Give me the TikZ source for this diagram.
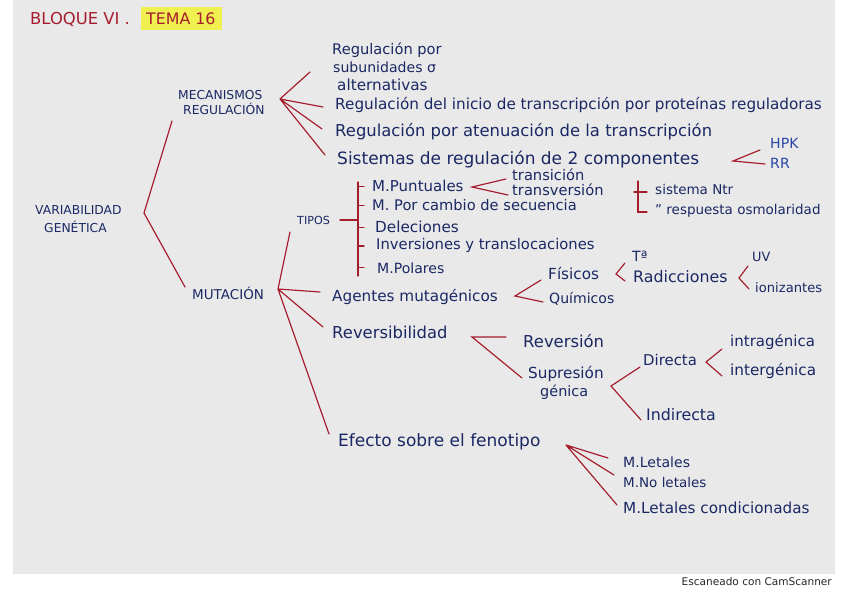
\documentclass[tikz,border=0pt]{standalone}
\usepackage{fontspec}
\setmainfont{DejaVu Sans}
\usepackage{tikz}
\definecolor{inkblue}{RGB}{27,40,100}
\definecolor{inkred}{RGB}{165,28,45}
\definecolor{brightblue}{RGB}{40,70,165}
\definecolor{paper}{RGB}{233,233,233}
\definecolor{marker}{RGB}{240,240,80}

\begin{document}
\begin{tikzpicture}[x=0.03cm, y=-0.03cm,
    lbl/.style={anchor=base west, inner sep=0pt, text=inkblue, font=\fontsize{#1}{#1}\selectfont},
    lbl/.default=13,
    branch/.style={inkred, line width=1pt, line cap=round}]
    \useasboundingbox (0,0) rectangle (848,599);
    \fill[paper] (13,0) rectangle (835,574);
    \fill[marker] (141,7) rectangle (222,30);

    % titulo
    \node (blq) at (30,25) [lbl=14, text=inkred] {BLOQUE VI .};
    \node (tema) at (146,25) [lbl=13.5, text=inkred] {TEMA 16};

    % ramas principales
    \node (var1) at (35,215) [lbl=10.5] {VARIABILIDAD};
    \node (var2) at (44,233) [lbl=10.5] {GENÉTICA};
    \node (mec1) at (178,100) [lbl=10.5] {MECANISMOS};
    \node (mec2) at (183,115) [lbl=10.5] {REGULACIÓN};
    \node (mut) at (192,299) [lbl=11.5] {MUTACIÓN};
    \node (tip) at (297,225) [lbl=9.5] {TIPOS};

    % mecanismos de regulacion
    \node (rs1) at (332,55) [lbl=12.5] {Regulación por};
    \node (rs2) at (333,73) [lbl=12] {subunidades σ};
    \node (rs3) at (337,91) [lbl=13] {alternativas};
    \node (rin) at (335,110) [lbl=13] {Regulación del inicio de transcripción por proteínas reguladoras};
    \node (rat) at (335,137) [lbl=14] {Regulación por atenuación de la transcripción};
    \node (sis) at (337,165) [lbl=14.5] {Sistemas de regulación de 2 componentes};
    \node (hpk) at (770,149) [lbl=12, text=brightblue] {HPK};
    \node (rr) at (770,169) [lbl=12, text=brightblue] {RR};

    % tipos de mutacion
    \node (pun) at (372,192) [lbl=12.8] {M.Puntuales};
    \node (tsi) at (512,181) [lbl=12.5] {transición};
    \node (tve) at (512,196) [lbl=12.5] {transversión};
    \node (sec) at (372,211) [lbl=12.5] {M. Por cambio de secuencia};
    \node (del) at (375,233) [lbl=13] {Deleciones};
    \node (inv) at (376,250) [lbl=12.6] {Inversiones y translocaciones};
    \node (pol) at (377,273) [lbl=12] {M.Polares};
    \node (ntr) at (655,195) [lbl=11.5] {sistema Ntr};
    \node (osm) at (655,215) [lbl=11.5] {'' respuesta osmolaridad};

    % agentes mutagenicos
    \node (age) at (332,301) [lbl=13] {Agentes mutagénicos};
    \node (fis) at (548,279) [lbl=13] {Físicos};
    \node (qui) at (549,303) [lbl=12] {Químicos};
    \node (tem) at (632,262) [lbl=12] {Tª};
    \node (rad) at (633,282) [lbl=13.5] {Radicciones};
    \node (uv) at (752,262) [lbl=11] {UV};
    \node (ion) at (755,292) [lbl=11.2] {ionizantes};

    % reversibilidad
    \node (rev) at (332,338) [lbl=14] {Reversibilidad};
    \node (rsn) at (523,347) [lbl=14] {Reversión};
    \node (sup1) at (528,378) [lbl=13] {Supresión};
    \node (sup2) at (540,396) [lbl=12.3] {génica};
    \node (dir) at (643,365) [lbl=12.7] {Directa};
    \node (ind) at (646,420) [lbl=13.5] {Indirecta};
    \node (intra) at (730,346) [lbl=12.8] {intragénica};
    \node (inter) at (730,375) [lbl=13] {intergénica};

    % efecto sobre el fenotipo
    \node (efe) at (338,446) [lbl=14.5] {Efecto sobre el fenotipo};
    \node (let) at (623,467) [lbl=12] {M.Letales};
    \node (nol) at (623,487) [lbl=11.5] {M.No letales};
    \node (con) at (623,513) [lbl=13] {M.Letales condicionadas};

    \node (cam) at (832,585) [anchor=base east, inner sep=0pt, text=black!85, font=\fontsize{9}{9}\selectfont] {Escaneado con CamScanner};

    % llaves
    \coordinate (v0) at (144,213);
    \coordinate (v1) at (172,121);
    \coordinate (v2) at (185,287);
    \draw[branch] (v1) -- (v0) -- (v2);

    \coordinate (m0) at (280,99);
    \coordinate (m1) at (310,72);
    \coordinate (m2) at (323,107);
    \coordinate (m3) at (322,129);
    \coordinate (m4) at (325,155);
    \draw[branch] (m0) -- (m1) (m0) -- (m2) (m0) -- (m3) (m0) -- (m4);

    \coordinate (k0) at (733,161);
    \coordinate (k1) at (760,150);
    \coordinate (k2) at (765,164);
    \draw[branch] (k1) -- (k0) -- (k2);

    \coordinate (u0) at (278,289);
    \coordinate (u1) at (290,232);
    \coordinate (u2) at (320,292);
    \coordinate (u3) at (323,327);
    \coordinate (u4) at (329,434);
    \draw[branch] (u0) -- (u1) (u0) -- (u2) (u0) -- (u3) (u0) -- (u4);

    \coordinate (t0) at (340,220);
    \coordinate (t1) at (358,220);
    \coordinate (tb1) at (358,182);
    \coordinate (tb2) at (358,276);
    \draw[branch] (t0) -- (t1) (tb1) -- (tb2);
    \foreach \n in {pun,sec,del,inv,pol}
        \draw[branch] (tb1 |- \n) -- ++(6,0);

    \coordinate (p0) at (472,187);
    \coordinate (p1) at (506,179);
    \coordinate (p2) at (508,195);
    \draw[branch] (p1) -- (p0) -- (p2);

    \coordinate (n0) at (638,181);
    \coordinate (n1) at (638,212);
    \coordinate (n2) at (647,212);
    \coordinate (n3) at (634,192);
    \coordinate (n4) at (647,192);
    \draw[branch] (n0) -- (n1) -- (n2) (n3) -- (n4);

    \coordinate (a0) at (515,296);
    \coordinate (a1) at (541,280);
    \coordinate (a2) at (543,302);
    \draw[branch] (a1) -- (a0) -- (a2);

    \coordinate (f0) at (616,274);
    \coordinate (f1) at (625,263);
    \coordinate (f2) at (625,281);
    \draw[branch] (f1) -- (f0) -- (f2);

    \coordinate (r0) at (739,278);
    \coordinate (r1) at (748,266);
    \coordinate (r2) at (749,289);
    \draw[branch] (r1) -- (r0) -- (r2);

    \coordinate (e0) at (472,337);
    \coordinate (e1) at (506,337);
    \coordinate (e2) at (522,378);
    \draw[branch] (e1) -- (e0) -- (e2);

    \coordinate (s0) at (611,386);
    \coordinate (s1) at (640,367);
    \coordinate (s2) at (641,420);
    \draw[branch] (s1) -- (s0) -- (s2);

    \coordinate (d0) at (706,362);
    \coordinate (d1) at (722,349);
    \coordinate (d2) at (722,376);
    \draw[branch] (d1) -- (d0) -- (d2);

    \coordinate (x0) at (566,445);
    \coordinate (x1) at (608,458);
    \coordinate (x2) at (614,475);
    \coordinate (x3) at (617,505);
    \draw[branch] (x0) -- (x1) (x0) -- (x2) (x0) -- (x3);
\end{tikzpicture}
\end{document}
